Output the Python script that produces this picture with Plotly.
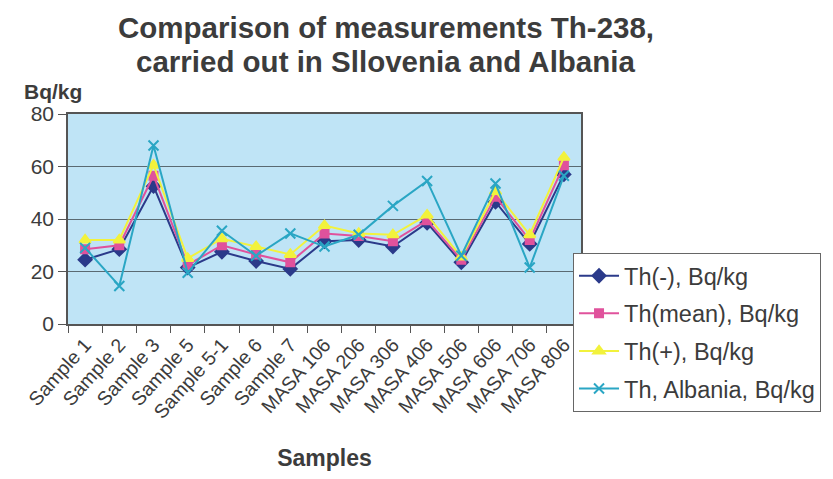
import plotly.graph_objects as go

categories = ["Sample 1", "Sample 2", "Sample 3", "Sample 5", "Sample 5-1", "Sample 6", "Sample 7",
              "MASA 106", "MASA 206", "MASA 306", "MASA 406", "MASA 506", "MASA 606", "MASA 706", "MASA 806"]
th_minus = [24.5, 28.5, 52.5, 21.5, 27.5, 24.0, 21.0, 31.5, 32.0, 29.5, 38.5, 23.5, 46.5, 30.5, 57.0]
th_mean = [28.5, 30.0, 56.5, 22.5, 30.0, 26.5, 23.5, 34.5, 33.5, 31.5, 39.5, 24.5, 48.5, 32.0, 60.5]
th_plus = [32.0, 32.0, 60.5, 25.0, 32.5, 29.5, 26.5, 37.5, 34.5, 34.0, 41.5, 25.5, 50.5, 34.0, 63.5]
th_albania = [29.0, 14.5, 68.0, 19.5, 35.5, 26.0, 34.5, 29.5, 34.0, 45.0, 54.5, 26.0, 53.5, 21.5, 56.5]
y_ticks = [0, 20, 40, 60, 80]
title_lines = ["Comparison of measurements Th-238,", "carried out in Sllovenia and Albania"]

FONT = "Liberation Sans, Arial, sans-serif"
TXT = "#3c3c3c"

series = [
    ("Th(-), Bq/kg", th_minus, "#2b3a8a", "diamond", 10),
    ("Th(mean), Bq/kg", th_mean, "#e0529c", "square", 8),
    ("Th(+), Bq/kg", th_plus, "#f2f23c", "triangle-up", 10),
    ("Th, Albania, Bq/kg", th_albania, "#2aa6c4", "x-thin-open", 10),
]

fig = go.Figure()
for i, (name, vals, col, sym, sz) in enumerate(series):
    fig.add_trace(go.Scatter(
        x=categories, y=vals, name=name, mode="lines+markers",
        line=dict(color=col, width=2),
        marker=dict(symbol=sym, size=sz, color=col, line=dict(color=col, width=2)),
        legendgroup=f"g{i}",
    ))

L, R, T, B = 68, 583, 114, 324
PW, PH = R - L, B - T

annotations = [dict(
    text="<b>Bq/kg</b>", xref="paper", yref="paper",
    x=(22 - L) / PW, y=(B - 92) / PH, xanchor="left", yanchor="middle",
    showarrow=False, font=dict(size=21, family=FONT, color=TXT),
)]
for line, yc in zip(title_lines, [28, 61]):
    annotations.append(dict(
        text=f"<b>{line}</b>", xref="paper", yref="paper",
        x=(387 - L) / PW, y=(B - yc) / PH, xanchor="center", yanchor="middle",
        showarrow=False, font=dict(size=29.5, family=FONT, color=TXT),
    ))

fig.update_layout(
    width=833, height=479,
    margin=dict(l=L, r=833 - R, t=T, b=479 - B),
    paper_bgcolor="white",
    plot_bgcolor="#bfe4f6",
    font=dict(family=FONT, color=TXT),
    showlegend=True,
    legend=dict(
        x=(575 - L) / PW, xanchor="left",
        y=(B - 253) / PH, yanchor="top",
        bgcolor="white", bordercolor="#666", borderwidth=1,
        font=dict(size=23.5, family=FONT, color=TXT),
        tracegroupgap=4, itemwidth=40,
    ),
    xaxis=dict(
        type="category", range=[-0.5, len(categories) - 0.5],
        tickangle=-48, tickfont=dict(size=19.5, family=FONT, color=TXT),
        ticks="outside", tickson="boundaries", ticklen=7, tickcolor="#555",
        showline=True, linecolor="#555", linewidth=1.5, mirror=True,
        showgrid=False,
        title=dict(text="<b>Samples</b>", font=dict(size=23, family=FONT, color=TXT), standoff=28),
    ),
    yaxis=dict(
        range=[0, 80], tickvals=y_ticks,
        tickfont=dict(size=21, family=FONT, color=TXT),
        ticks="outside", ticklen=8, tickcolor="#555",
        showline=True, linecolor="#555", linewidth=1.5, mirror=True,
        showgrid=True, gridcolor="#5a6a72", gridwidth=1,
        zeroline=False,
    ),
    annotations=annotations,
)

fig.write_html("out.html")
